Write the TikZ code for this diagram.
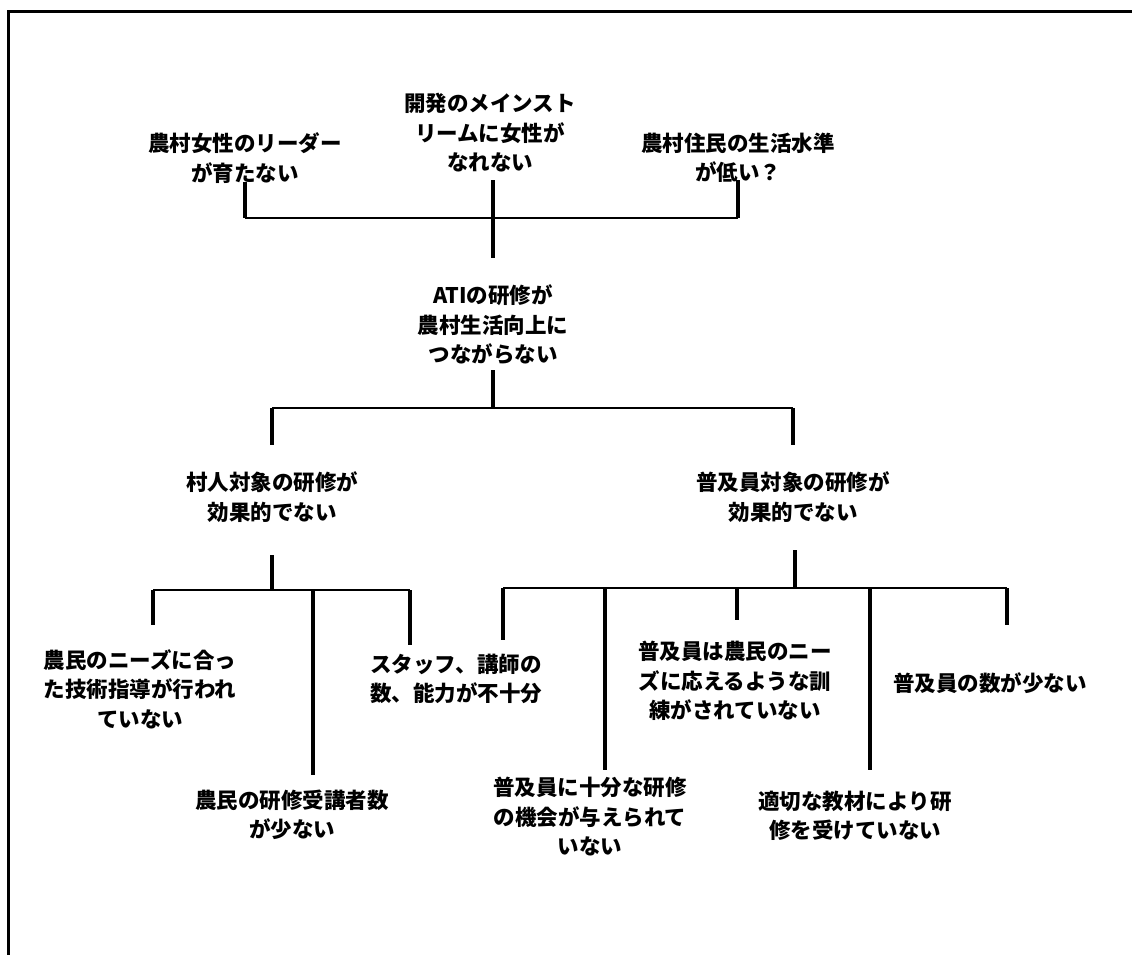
\documentclass[tikz,border=0pt]{standalone}
\usepackage{fontspec}
\newfontfamily\cjk{Noto Sans CJK JP}
\tikzset{
  lbl/.style={align=center, inner sep=0pt, font=\cjk\bfseries\fontsize{21.5}{29.5}\selectfont},
  conn/.style={line width=3.4pt, line cap=butt},
  bar/.style={line width=2.6pt},
  frame/.style={line width=3pt}
}
\begin{document}
\begin{tikzpicture}[x=1pt,y=-1pt]
\useasboundingbox (0,0) rectangle (1132,955);
% frame
\coordinate (fTL) at (8,12);
\coordinate (fTR) at (1132,12);
\coordinate (fBL) at (8,955);
\draw[frame] (fBL) -- (fTL) -- (fTR);

% top level
\node[lbl] (t1) at (245,158) {農村女性のリーダー\\が育たない};
\node[lbl] (t2) at (490,133) {開発のメインスト\\リームに女性が\\なれない};
\node[lbl] (t3) at (738,158) {農村住民の生活水準\\が低い？};
\node[lbl] (mid) at (493,325) {ATIの研修が\\農村生活向上に\\つながらない};

\coordinate (t1e) at (245,182);
\coordinate (t3e) at (738,180);
\coordinate (t2e) at (493,180);
\coordinate (b1L) at (245,218);
\coordinate (b1R) at (738,218);
\coordinate (b1M) at (493,218);
\coordinate (mide) at (493,258);
\draw[conn] (t1e) -- (b1L);
\draw[conn] (t3e) -- (b1R);
\draw[bar] (b1L) -- (b1R);
\draw[conn] (t2e) -- (mide);

% second level
\node[lbl] (L) at (272,497) {村人対象の研修が\\効果的でない};
\node[lbl] (R) at (793,497) {普及員対象の研修が\\効果的でない};
\coordinate (midb) at (493,370);
\coordinate (b2M) at (493,408);
\coordinate (b2L) at (272,408);
\coordinate (b2R) at (793,408);
\coordinate (Lt) at (272,445);
\coordinate (Rt) at (793,445);
\draw[conn] (midb) -- (b2M);
\draw[bar] (b2L) -- (b2R);
\draw[conn] (b2L) -- (Lt);
\draw[conn] (b2R) -- (Rt);

% left subtree
\node[lbl] (a1) at (140,689) {農民のニーズに合っ\\た技術指導が行われ\\ていない};
\node[lbl] (a2) at (456,679) {スタッフ、講師の\\数、能力が不十分};
\node[lbl] (a3) at (292,815) {農民の研修受講者数\\が少ない};
\coordinate (Lb) at (272,555);
\coordinate (b3M) at (272,590);
\coordinate (b3L) at (153,590);
\coordinate (b3R) at (410,590);
\coordinate (b3C) at (313,590);
\coordinate (a1t) at (153,625);
\coordinate (a2t) at (410,645);
\coordinate (a3t) at (313,775);
\draw[conn] (Lb) -- (b3M);
\draw[bar] (b3L) -- (b3R);
\draw[conn] (b3L) -- (a1t);
\draw[conn] (b3R) -- (a2t);
\draw[conn] (b3C) -- (a3t);

% right subtree
\node[lbl] (c1) at (735,681) {普及員は農民のニー\\ズに応えるような訓\\練がされていない};
\node[lbl] (c2) at (990,683) {普及員の数が少ない};
\node[lbl] (c3) at (590,817) {普及員に十分な研修\\の機会が与えられて\\いない};
\node[lbl] (c4) at (855,816) {適切な教材により研\\修を受けていない};
\coordinate (Rb) at (795,550);
\coordinate (b4M) at (795,588);
\coordinate (b4L) at (503,588);
\coordinate (b4R) at (1007,588);
\coordinate (b4c3) at (605,588);
\coordinate (b4c1) at (737,588);
\coordinate (b4c4) at (870,588);
\coordinate (e0) at (503,640);
\coordinate (e3) at (605,770);
\coordinate (e1) at (737,620);
\coordinate (e4) at (870,770);
\coordinate (e2) at (1007,625);
\draw[conn] (Rb) -- (b4M);
\draw[bar] (b4L) -- (b4R);
\draw[conn] (b4L) -- (e0);
\draw[conn] (b4c3) -- (e3);
\draw[conn] (b4c1) -- (e1);
\draw[conn] (b4c4) -- (e4);
\draw[conn] (b4R) -- (e2);
\end{tikzpicture}
\end{document}
